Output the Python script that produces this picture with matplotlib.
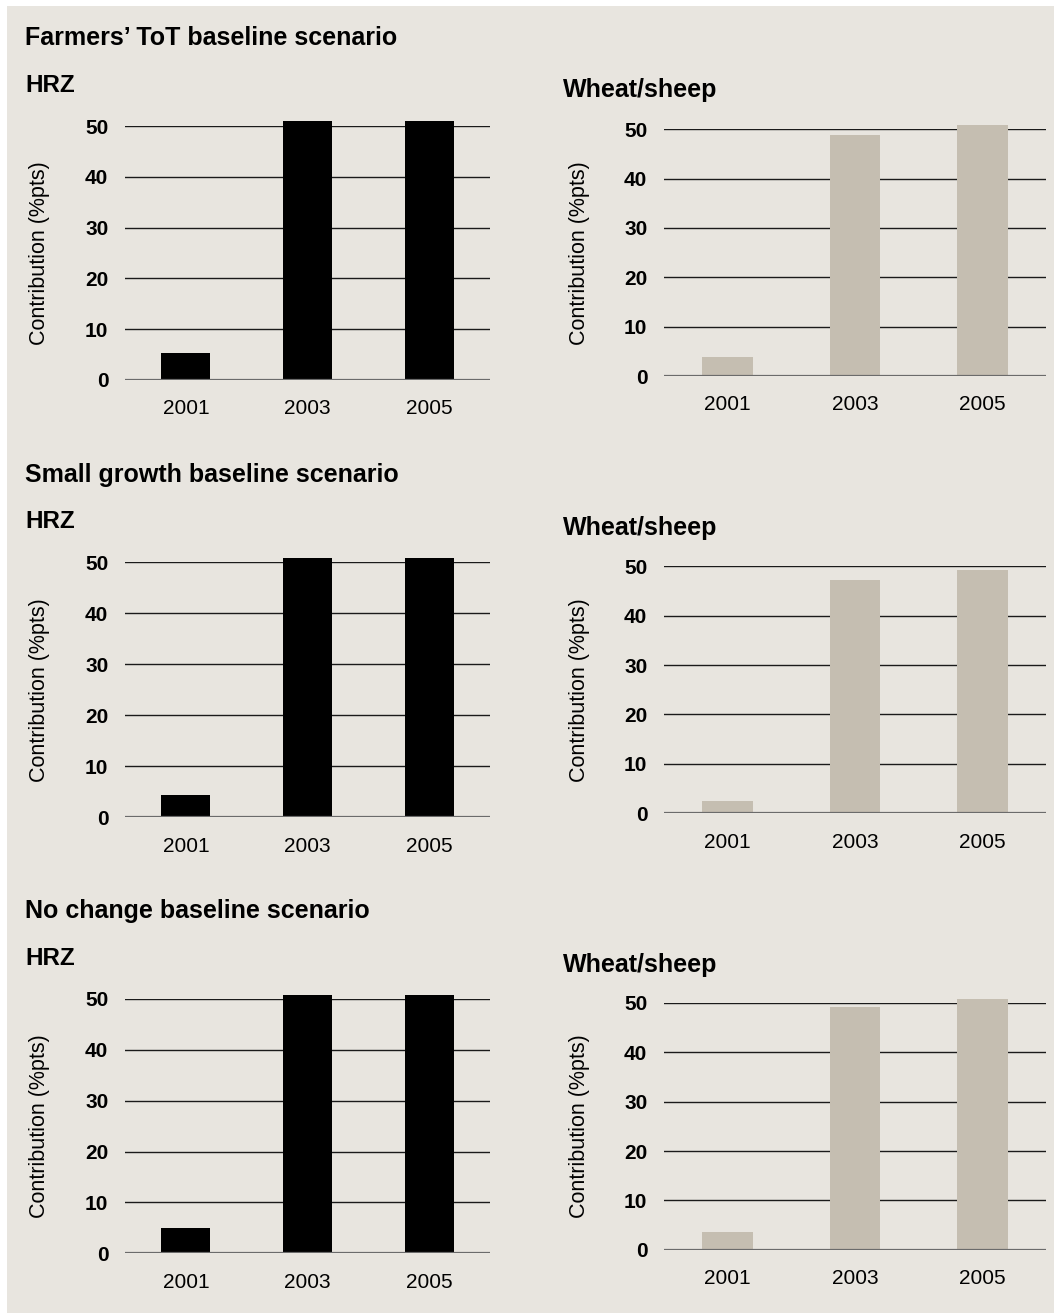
import matplotlib.pyplot as plt
from matplotlib.patches import Rectangle

plt.rcParams['font.family'] = ['Liberation Sans', 'DejaVu Sans']

years = ['2001', '2003', '2005']
scenarios = ['Farmers\u2019 ToT baseline scenario',
             'Small growth baseline scenario',
             'No change baseline scenario']

hrz_tot = [5.3, 51.0, 51.0]
wheat_tot = [3.9, 48.9, 50.9]
hrz_small = [4.4, 50.8, 50.8]
wheat_small = [2.5, 47.2, 49.2]
hrz_nochange = [5.0, 50.8, 50.8]
wheat_nochange = [3.6, 49.2, 50.8]

hrz_data = [hrz_tot, hrz_small, hrz_nochange]
wheat_data = [wheat_tot, wheat_small, wheat_nochange]

W, H = 1054, 1313
bg = '#E8E5DF'
fig = plt.figure(figsize=(W / 100, H / 100), dpi=100, facecolor='white')
fig.patches.append(Rectangle((7 / W, 0), 1 - 7 / W, 1 - 6 / H,
                             transform=fig.transFigure, facecolor=bg,
                             edgecolor='none', zorder=-5))


def px_axes(x0, x1, ytop, ybot):
    return fig.add_axes([x0 / W, 1 - ybot / H, (x1 - x0) / W, (ybot - ytop) / H])


def draw(ax, vals, color, label_x):
    ax.set_facecolor('none')
    x = range(len(years))
    ax.bar(x, vals, width=0.4, color=color, zorder=3, clip_on=False)
    ax.set_xlim(-0.5, 2.5)
    ax.set_ylim(0, 50)
    ax.set_yticks([0, 10, 20, 30, 40, 50])
    ax.set_xticks(list(x))
    ax.set_xticklabels(years, fontsize=15)
    for t in ax.get_yticklabels():
        t.set_fontweight('bold')
        t.set_fontsize(15)
    ax.tick_params(length=0)
    ax.tick_params(axis='y', pad=12)
    ax.tick_params(axis='x', pad=14)
    for s in ax.spines.values():
        s.set_visible(False)
    for v in [10, 20, 30, 40, 50]:
        ax.axhline(v, color='#1a1a1a', lw=1.0, zorder=1)
    ax.axhline(0, color='#6b6b6b', lw=1.6, zorder=4)
    ax.set_ylabel('Contribution (%pts)', fontsize=15.5)
    ax.yaxis.set_label_coords(label_x, 0.5)


left_rows = [(126, 380), (562.3, 817.3), (999, 1253.3)]
right_rows = [(129.3, 376), (566.3, 813.3), (1003, 1249.7)]
title_y = [45, 482, 918]
hrz_y = [92, 528, 965]
wheat_y = [97, 535, 972]

for i in range(3):
    axl = px_axes(125, 490, *left_rows[i])
    draw(axl, hrz_data[i], 'black', (50 - 125) / 365)
    axr = px_axes(664, 1046, *right_rows[i])
    draw(axr, wheat_data[i], '#C5BEB1', (590 - 664) / 382)

    fig.text(25 / W, 1 - title_y[i] / H, scenarios[i], fontsize=18,
             fontweight='bold', va='baseline', ha='left')
    fig.text(25 / W, 1 - hrz_y[i] / H, 'HRZ', fontsize=17.5,
             fontweight='bold', va='baseline', ha='left')
    fig.text(563 / W, 1 - wheat_y[i] / H, 'Wheat/sheep', fontsize=18,
             fontweight='bold', va='baseline', ha='left')

fig.savefig('out.png', dpi=100, facecolor=fig.get_facecolor())
